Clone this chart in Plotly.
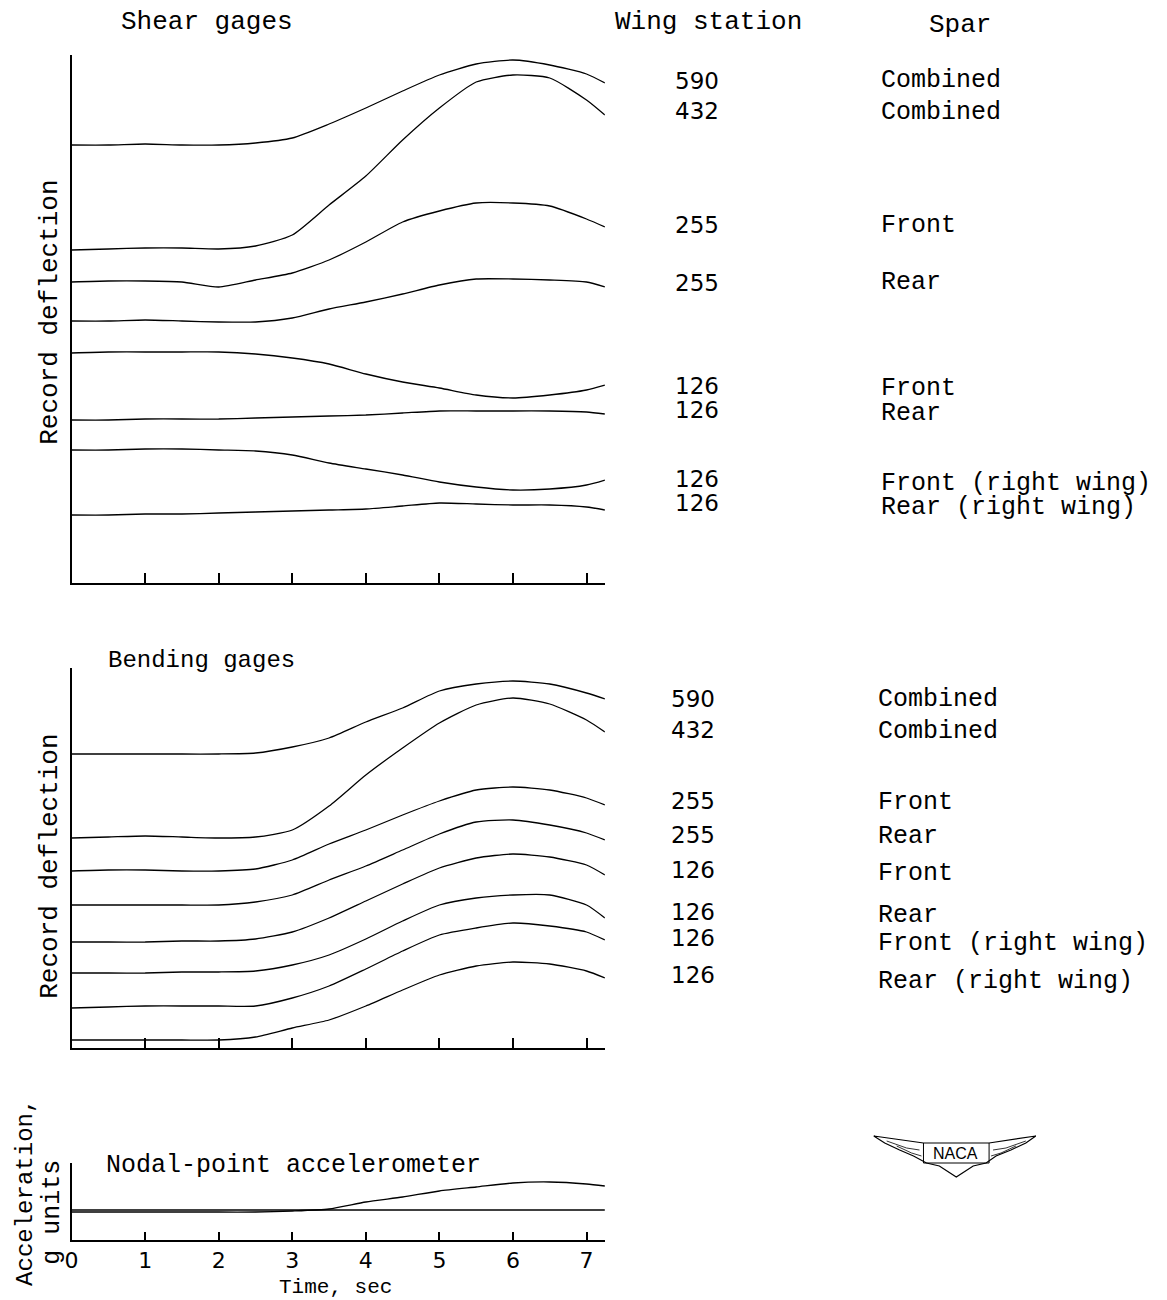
import plotly.graph_objects as go

W, H = 1167, 1300

# ---------------- data (read from the record) ----------------
time_s = [0, 0.5, 1, 1.5, 2, 2.5, 3, 3.5, 4, 4.5, 5, 5.5, 6, 6.5, 7, 7.25]

# Shear gages: record deflection (arbitrary units above panel axis)
shear_590_comb = [438, 438, 439, 438, 438, 440, 445, 459, 475, 492, 508, 519, 523, 518, 509, 500]
shear_432_comb = [333, 334, 335, 335, 334, 337, 348, 378, 407, 443, 475, 501, 508, 505, 483, 468]
shear_255_front = [301, 302, 302, 301, 296, 303, 310, 323, 341, 361, 372, 380, 380, 377, 364, 356]
shear_255_rear = [262, 262, 263, 262, 261, 261, 265, 274, 281, 289, 298, 304, 304, 303, 301, 296]
shear_126_front = [230, 231, 231, 231, 231, 229, 225, 219, 209, 201, 195, 188, 185, 188, 193, 198]
shear_126_rear = [163, 163, 164, 164, 164, 165, 166, 167, 168, 170, 172, 172, 172, 172, 171, 169]
shear_126_front_rw = [133, 133, 134, 134, 133, 132, 128, 120, 114, 108, 101, 96, 93, 94, 98, 103]
shear_126_rear_rw = [68, 68, 69, 69, 70, 71, 72, 73, 74, 77, 80, 79, 78, 78, 76, 73]

# Bending gages
bend_590_comb = [294, 294, 294, 294, 294, 295, 301, 310, 326, 340, 357, 364, 367, 364, 355, 349]
bend_432_comb = [210, 211, 212, 211, 210, 211, 218, 242, 273, 300, 325, 343, 350, 344, 328, 316]
bend_255_front = [177, 178, 178, 177, 177, 179, 188, 204, 218, 233, 247, 258, 261, 258, 250, 243]
bend_255_rear = [143, 143, 143, 143, 143, 146, 153, 168, 182, 198, 214, 226, 228, 223, 215, 208]
bend_126_front = [106, 106, 106, 107, 107, 109, 116, 130, 147, 164, 180, 190, 194, 191, 183, 173]
bend_126_rear = [75, 75, 75, 76, 76, 77, 83, 93, 109, 127, 143, 150, 153, 153, 143, 130]
bend_126_front_rw = [40, 41, 42, 42, 42, 42, 50, 62, 79, 97, 113, 120, 125, 122, 116, 108]
bend_126_rear_rw = [8, 8, 8, 8, 8, 11, 20, 28, 42, 58, 73, 82, 86, 84, 77, 70]

# Nodal-point accelerometer
accel_trace = [28, 28, 28, 28, 28, 28, 29, 31, 38, 43, 49, 53, 57, 58, 56, 54]
accel_zero_t = [0, 7.25]
accel_zero = [30, 30]

shear_series = [shear_590_comb, shear_432_comb, shear_255_front, shear_255_rear,
                shear_126_front, shear_126_rear, shear_126_front_rw, shear_126_rear_rw]
bend_series = [bend_590_comb, bend_432_comb, bend_255_front, bend_255_rear,
               bend_126_front, bend_126_rear, bend_126_front_rw, bend_126_rear_rw]

time_ticks = [0, 1, 2, 3, 4, 5, 6, 7]

shear_stations = ["590", "432", "255", "255", "126", "126", "126", "126"]
shear_spars = ["Combined", "Combined", "Front", "Rear", "Front", "Rear",
               "Front (right wing)", "Rear (right wing)"]
bend_stations = ["590", "432", "255", "255", "126", "126", "126", "126"]
bend_spars = ["Combined", "Combined", "Front", "Rear", "Front", "Rear",
              "Front (right wing)", "Rear (right wing)"]

# ---------------- helpers for layout positions ----------------
def px(x):
    return x / W

def py(y):
    return 1 - y / H

MONO = "Liberation Mono"
HAND = "DejaVu Sans"

fig = go.Figure()

line_style = dict(color="black", width=1.3, shape="spline", smoothing=0.6)

for s in shear_series:
    fig.add_trace(go.Scatter(x=time_s, y=s, mode="lines", line=line_style,
                             xaxis="x", yaxis="y", showlegend=False, hoverinfo="skip"))
for s in bend_series:
    fig.add_trace(go.Scatter(x=time_s, y=s, mode="lines", line=line_style,
                             xaxis="x2", yaxis="y2", showlegend=False, hoverinfo="skip"))
fig.add_trace(go.Scatter(x=time_s, y=accel_trace, mode="lines", line=line_style,
                         xaxis="x3", yaxis="y3", showlegend=False, hoverinfo="skip"))
fig.add_trace(go.Scatter(x=accel_zero_t, y=accel_zero, mode="lines",
                         line=dict(color="black", width=1.5),
                         xaxis="x3", yaxis="y3", showlegend=False, hoverinfo="skip"))

xdom = [px(65), px(601.5)]

def xax(anchor, labels=False, ticklen=10):
    d = dict(domain=xdom, range=[0, 7.25], anchor=anchor, showline=True,
             linecolor="black", linewidth=2, showgrid=False, zeroline=False,
             ticks="inside", tickcolor="black", ticklen=ticklen, tickwidth=1.5,
             fixedrange=True)
    if labels:
        d.update(tickvals=time_ticks, ticktext=[str(v) for v in time_ticks],
                 showticklabels=True, tickfont=dict(family=HAND, size=22, color="black"))
    else:
        d.update(tickvals=time_ticks[1:], showticklabels=False)
    return d

def yax(dom, rng, anchor):
    return dict(domain=dom, range=rng, anchor=anchor, showline=True, linecolor="black",
                linewidth=1.5, showgrid=False, zeroline=False, showticklabels=False,
                ticks="", fixedrange=True)

fig.update_layout(
    width=W, height=H,
    margin=dict(l=0, r=0, t=0, b=0),
    paper_bgcolor="white", plot_bgcolor="white",
    xaxis=xax("y"),
    yaxis=yax([py(583), py(55)], [0, 528], "x"),
    xaxis2=xax("y2"),
    yaxis2=yax([py(1048), py(668)], [0, 380], "x2"),
    xaxis3=xax("y3", labels=True, ticklen=8),
    yaxis3=yax([py(1240), py(1163)], [0, 77], "x3"),
)

ann = []

def text(x, y, t, size=26, family=MONO, xanchor="center", angle=0):
    ann.append(dict(x=px(x), y=py(y), xref="paper", yref="paper", text=t,
                    showarrow=False, xanchor=xanchor, yanchor="middle",
                    textangle=angle, font=dict(family=family, size=size, color="black")))

# Headers
text(201, 22, "Shear gages")
text(706, 22, "Wing station")
text(959, 25, "Spar")

shear_y_st = [81, 111, 225, 283, 386, 410, 479, 503]
shear_y_sp = [81, 113, 225, 283, 388, 413, 484, 507]
for st, sp, y1, y2 in zip(shear_stations, shear_spars, shear_y_st, shear_y_sp):
    text(694, y1, st, size=23, family=HAND)
    text(877, y2, sp, size=25, xanchor="left")

text(196, 660, "Bending gages", size=24)
bend_y_st = [699, 730, 801, 835, 870, 912, 938, 975]
bend_y_sp = [699, 731, 802, 836, 873, 915, 943, 981]
for st, sp, y1, y2 in zip(bend_stations, bend_spars, bend_y_st, bend_y_sp):
    text(690, y1, st, size=23, family=HAND)
    text(874, y2, sp, size=25, xanchor="left")

text(43, 312, "Record deflection", angle=-90)
text(43, 866, "Record deflection", angle=-90)

text(288, 1165, "Nodal-point accelerometer", size=25)
text(18, 1192, "Acceleration,", size=24, angle=-90)
text(45, 1212, "g units", size=25, angle=-90)
text(330, 1287, "Time, sec", size=21)

# NACA emblem
text(954, 1153, "NACA", size=16, family="Liberation Sans")
fig.update_layout(annotations=ann)

def path(points, close=True):
    s = "M " + " L ".join(f"{px(x):.5f},{py(y):.5f}" for x, y in points)
    return s + (" Z" if close else "")

logo = [(872, 1136), (922, 1143), (988, 1143), (1035, 1136), (1025, 1143), (1010, 1150),
        (995, 1156), (985, 1163), (972, 1166), (955, 1177), (938, 1166), (925, 1163),
        (912, 1156), (898, 1150), (883, 1143)]
fig.add_shape(type="path", xref="paper", yref="paper", path=path(logo),
              line=dict(color="black", width=1.2))
fig.add_shape(type="path", xref="paper", yref="paper",
              path=path([(922, 1143), (922, 1163), (988, 1163), (988, 1143)], close=False),
              line=dict(color="black", width=1))
for seg in [[(885, 1141), (905, 1148), (918, 1150)], [(1025, 1141), (1005, 1148), (992, 1150)],
            [(895, 1146), (910, 1153), (920, 1156)], [(1015, 1146), (1000, 1153), (990, 1156)]]:
    fig.add_shape(type="path", xref="paper", yref="paper", path=path(seg, close=False),
                  line=dict(color="black", width=0.8))

fig.write_html("out.html", config={"displayModeBar": False},
               post_script="document.body.style.margin='0';document.body.style.padding='0';")
